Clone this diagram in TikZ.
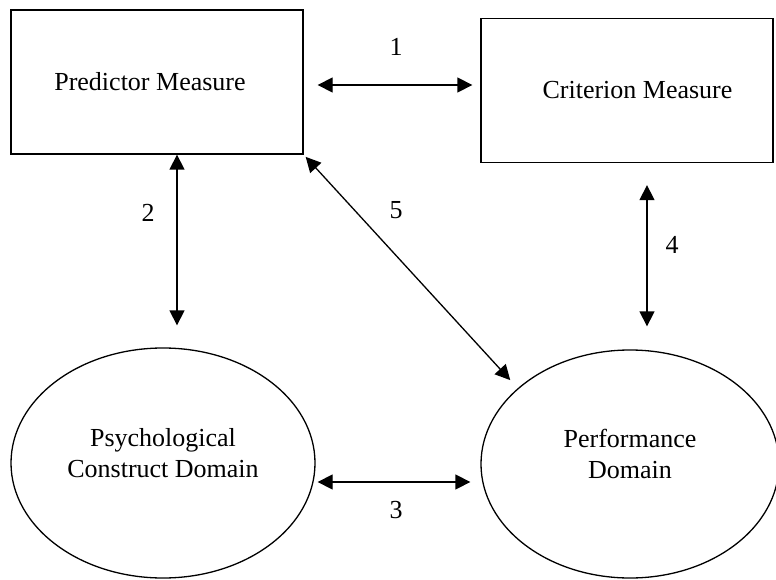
\documentclass[tikz,border=0pt]{standalone}
\usepackage{fontspec}
\setmainfont{Liberation Serif}
\usetikzlibrary{arrows.meta,shapes.geometric}
\tikzset{
    measure/.style={draw, rectangle, inner sep=0pt, minimum width=292pt, minimum height=144pt},
    oval/.style={draw, ellipse, inner sep=0pt},
    both/.style={{Triangle[length=15pt,width=15pt]}-{Triangle[length=15pt,width=15pt]}}
}
\newcommand{\twolines}[2]{\raisebox{40pt}{\begin{tabular}{@{}c@{}}#1\\#2\end{tabular}}}
\begin{document}
\begin{tikzpicture}[x=1pt, y=-1pt, line width=1.3pt, font=\fontsize{26}{31}\selectfont]
            \useasboundingbox (0,0) rectangle (776,580);
            \node[measure] (pm) at (157,82) {\hspace*{-14pt}Predictor Measure};
            \node[measure] (cm) at (627,90.5) {\hspace*{21pt}Criterion Measure};
            \node[oval, minimum width=304pt, minimum height=230pt] (pc) at (163,463)
                {\twolines{Psychological}{Construct Domain}};
            \node[oval, minimum width=298pt, minimum height=228pt] (pd) at (630,464)
                {\twolines{Performance}{Domain}};

            \draw[both, shorten <=14pt, shorten >=8pt] ([yshift=-3pt]pm.east) -- ([yshift=-3pt]pm.east -| cm.west);
            \draw[both, shorten <=0pt, shorten >=22pt] ([xshift=20pt]pm.south) -- ([xshift=20pt]pm.south |- pc.north);
            \draw[both, shorten <=2pt, shorten >=10pt] ([yshift=-19pt]pc.east) -- ([yshift=-19pt]pc.east -| pd.west);
            \draw[both, shorten <=22pt, shorten >=23pt] ([xshift=20pt]cm.south) -- ([xshift=20pt]cm.south |- pd.north);
            \draw[both, shorten <=3pt, shorten >=11pt] (pm.south east) -- (pd.146);

            \foreach \n/\x/\y in {1/396/47, 2/148/213, 3/396/510, 4/672/245, 5/396/210}
                \node (l\n) at (\x,\y) {\n};
        \end{tikzpicture}
\end{document}
